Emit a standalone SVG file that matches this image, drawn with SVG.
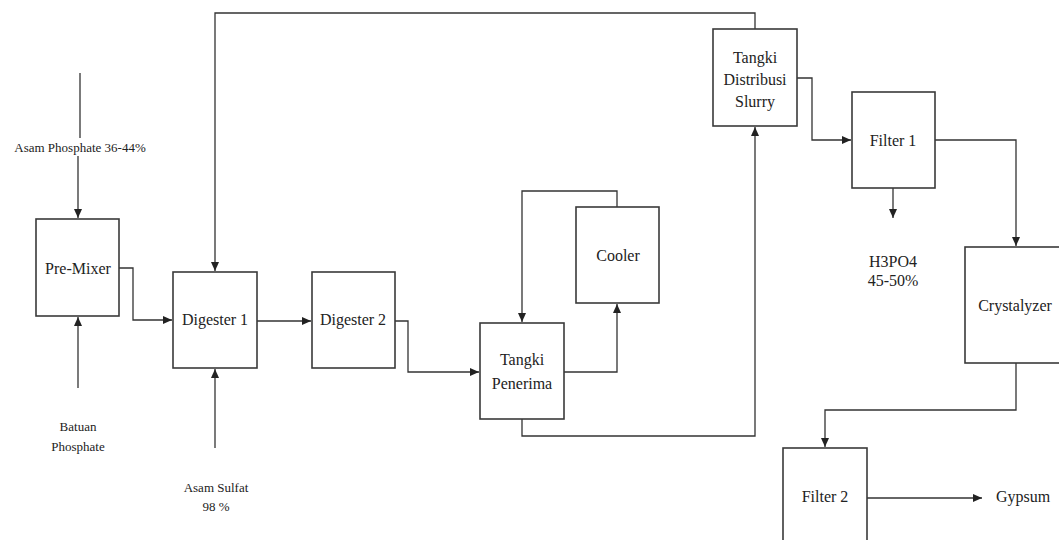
<svg xmlns="http://www.w3.org/2000/svg" width="1059" height="540" viewBox="0 0 1059 540">
<style>
.box{fill:#fff;stroke:#3a3a3a;stroke-width:1.6}
.ln{fill:none;stroke:#333;stroke-width:1.3}
text{font-family:"Liberation Serif","Times New Roman",serif;fill:#222;text-anchor:middle}
.t{font-size:16px}
.s{font-size:13px}
</style>
<defs>
<marker id="ah" markerUnits="userSpaceOnUse" markerWidth="10" markerHeight="8" refX="9" refY="4" orient="auto">
<path d="M0,0 L9,4 L0,8 Z" fill="#222"/>
</marker>
</defs>
<rect width="1059" height="540" fill="#fff"/>
<g id="connectors">
<line class="ln" x1="80" y1="73" x2="80" y2="138"/>
<line class="ln" x1="78" y1="156" x2="78" y2="218" marker-end="url(#ah)"/>
<line class="ln" x1="78" y1="388" x2="78" y2="317" marker-end="url(#ah)"/>
<polyline class="ln" points="119,268 133,268 133,320 172,320" marker-end="url(#ah)"/>
<polyline class="ln" points="755,29 755,13 215,13 215,271" marker-end="url(#ah)"/>
<line class="ln" x1="215" y1="448" x2="215" y2="369" marker-end="url(#ah)"/>
<line class="ln" x1="257" y1="321" x2="311" y2="321" marker-end="url(#ah)"/>
<polyline class="ln" points="395,321 408,321 408,372 479,372" marker-end="url(#ah)"/>
<polyline class="ln" points="564,372 617,372 617,304" marker-end="url(#ah)"/>
<polyline class="ln" points="617,207 617,191 522,191 522,322" marker-end="url(#ah)"/>
<polyline class="ln" points="522,419 522,436 755,436 755,127" marker-end="url(#ah)"/>
<polyline class="ln" points="797,78 812,78 812,140 851,140" marker-end="url(#ah)"/>
<line class="ln" x1="893" y1="188" x2="893" y2="218" marker-end="url(#ah)"/>
<polyline class="ln" points="935,140 1016,140 1016,246" marker-end="url(#ah)"/>
<polyline class="ln" points="1016,363 1016,410 825,410 825,447" marker-end="url(#ah)"/>
<line class="ln" x1="867" y1="498" x2="982" y2="498" marker-end="url(#ah)"/>
</g>
<g id="premixer"><rect class="box" x="36" y="219" width="83" height="97"/><text class="t" x="78" y="274">Pre-Mixer</text></g>
<g id="digester1"><rect class="box" x="173" y="272" width="84" height="96"/><text class="t" x="215" y="325">Digester 1</text></g>
<g id="digester2"><rect class="box" x="312" y="272" width="83" height="96"/><text class="t" x="353" y="325">Digester 2</text></g>
<g id="tangki-penerima"><rect class="box" x="480" y="323" width="84" height="96"/><text class="t" x="522" y="365">Tangki</text><text class="t" x="522" y="389">Penerima</text></g>
<g id="cooler"><rect class="box" x="576" y="207" width="83" height="96"/><text class="t" x="618" y="261">Cooler</text></g>
<g id="tangki-distribusi"><rect class="box" x="713" y="29" width="84" height="97"/><text class="t" x="755" y="63">Tangki</text><text class="t" x="755" y="85">Distribusi</text><text class="t" x="755" y="107">Slurry</text></g>
<g id="filter1"><rect class="box" x="852" y="92" width="83" height="96"/><text class="t" x="893" y="146">Filter 1</text></g>
<g id="crystalyzer"><rect class="box" x="965" y="247" width="110" height="116"/><text class="t" x="1015" y="311">Crystalyzer</text></g>
<g id="filter2"><rect class="box" x="783" y="448" width="84" height="110"/><text class="t" x="825" y="502">Filter 2</text></g>
<g id="labels">
<text class="s" x="80" y="152">Asam Phosphate 36-44%</text>
<text class="s" x="78" y="431">Batuan</text>
<text class="s" x="78" y="451">Phosphate</text>
<text class="s" x="216" y="492">Asam Sulfat</text>
<text class="s" x="216" y="511">98 %</text>
<text class="t" x="893" y="267">H3PO4</text>
<text class="t" x="893" y="286">45-50%</text>
<text class="t" x="1023" y="502">Gypsum</text>
</g>
</svg>
